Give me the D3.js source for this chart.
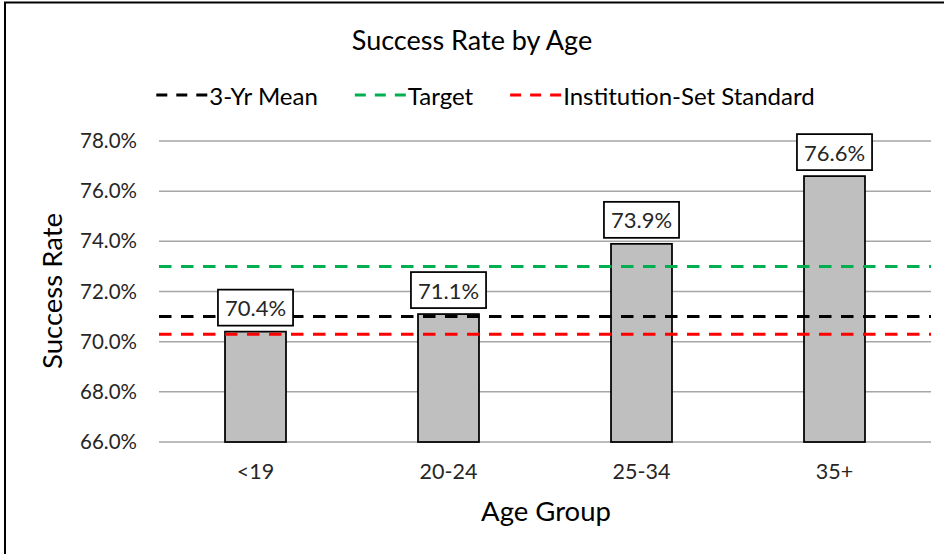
<!DOCTYPE html>
<html>
<head>
<meta charset="utf-8">
<script src="https://cdn.jsdelivr.net/npm/d3@7"></script>
<style>
  html, body { margin: 0; padding: 0; background: #fff; }
  svg { display: block; font-family: Lato, "Open Sans", sans-serif; }
</style>
</head>
<body>
<svg id="chart" width="944" height="554"></svg>
<script>
const categories = ["<19", "20-24", "25-34", "35+"];
const successRates = [70.4, 71.1, 73.9, 76.6];
const yTicks = [66, 68, 70, 72, 74, 76, 78];
const refNames = ["3-Yr Mean", "Target", "Institution-Set Standard"];
const refValues = [71.0, 73.0, 70.3];
const refColors = ["#000000", "#00b050", "#ff0000"];
const legendOrder = [0, 1, 2];

const svg = d3.select("#chart");

// outer frame (left and top visible)
svg.append("line").attr("x1", 5).attr("x2", 5).attr("y1", 2).attr("y2", 554)
  .attr("stroke", "#000").attr("stroke-width", 2);
svg.append("line").attr("x1", 4).attr("x2", 944).attr("y1", 2.5).attr("y2", 2.5)
  .attr("stroke", "#000").attr("stroke-width", 2);

const x = d3.scaleBand().domain(categories).range([159, 931])
  .paddingInner(0.684).paddingOuter(0.342);
const y = d3.scaleLinear().domain([66, 78]).range([442, 141]);

// gridlines
svg.append("g").selectAll("line").data(yTicks).join("line")
  .attr("x1", 159).attr("x2", 931)
  .attr("y1", d => y(d)).attr("y2", d => y(d))
  .attr("stroke", "#a6a6a6").attr("stroke-width", 1.5);

// y axis labels
const yAxis = d3.axisLeft(y).tickValues(yTicks).tickSize(0).tickPadding(0)
  .tickFormat(d => d3.format(".1f")(d) + "%");
const gy = svg.append("g").attr("transform", "translate(137,0)").call(yAxis);
gy.select(".domain").remove();
gy.selectAll("text").attr("font-size", 20.5).attr("fill", "#262626")
  .attr("font-family", "Lato, 'Open Sans', sans-serif");

// x axis labels
const xAxis = d3.axisBottom(x).tickSize(0).tickPadding(0);
const gx = svg.append("g").attr("transform", "translate(0,464)").call(xAxis);
gx.select(".domain").remove();
gx.selectAll("text").attr("font-size", 21.5).attr("fill", "#262626")
  .attr("font-family", "Lato, 'Open Sans', sans-serif");

// bars
svg.append("g").selectAll("rect").data(categories).join("rect")
  .attr("x", d => x(d)).attr("width", x.bandwidth())
  .attr("y", (d, i) => y(successRates[i]))
  .attr("height", (d, i) => y(66) - y(successRates[i]))
  .attr("fill", "#bfbfbf").attr("stroke", "#000").attr("stroke-width", 1.75);

// reference lines
svg.append("g").selectAll("line").data(refValues).join("line")
  .attr("x1", 159).attr("x2", 931)
  .attr("y1", d => y(d)).attr("y2", d => y(d))
  .attr("stroke", (d, i) => refColors[i]).attr("stroke-width", 3)
  .attr("stroke-dasharray", "12.5,9.5");

// data labels
const lg = svg.append("g").selectAll("g").data(categories).join("g");
lg.each(function(d, i) {
  const g = d3.select(this);
  const cx = x(d) + x.bandwidth() / 2;
  const bottom = y(successRates[i]) - 6;
  const rect = g.append("rect");
  const t = g.append("text").attr("x", cx).attr("y", bottom - 18)
    .attr("text-anchor", "middle").attr("dominant-baseline", "central")
    .attr("font-size", 22).attr("fill", "#262626")
    .text(d3.format(".1f")(successRates[i]) + "%");
  const w = t.node().getComputedTextLength() + 14;
  rect.attr("x", cx - w / 2).attr("y", bottom - 36).attr("width", w).attr("height", 36)
    .attr("fill", "#fff").attr("stroke", "#000").attr("stroke-width", 1.75);
});

// title
svg.append("text").attr("x", 472).attr("y", 50).attr("text-anchor", "middle")
  .attr("font-size", 27).attr("fill", "#000").text("Success Rate by Age");

// axis titles
svg.append("text").attr("x", 546).attr("y", 521).attr("text-anchor", "middle")
  .attr("font-size", 27.5).attr("fill", "#000").text("Age Group");
svg.append("text").attr("transform", "translate(62,291) rotate(-90)")
  .attr("text-anchor", "middle").attr("font-size", 27.5).attr("fill", "#000")
  .text("Success Rate");

// legend
const legend = svg.append("g");
let cursor = 0;
legendOrder.forEach(i => {
  const g = legend.append("g").attr("transform", `translate(${cursor},0)`);
  g.append("line").attr("x1", 0).attr("x2", 51).attr("y1", 0).attr("y2", 0)
    .attr("stroke", refColors[i]).attr("stroke-width", 3)
    .attr("stroke-dasharray", "11,9");
  const t = g.append("text").attr("x", 53).attr("y", 0)
    .attr("dominant-baseline", "central").attr("font-size", 24).attr("fill", "#000")
    .text(refNames[i]);
  const w = 53 + t.node().getComputedTextLength();
  cursor += w + 37;
});
const total = cursor - 37;
legend.attr("transform", `translate(${485.5 - total / 2},95)`);
</script>
</body>
</html>
